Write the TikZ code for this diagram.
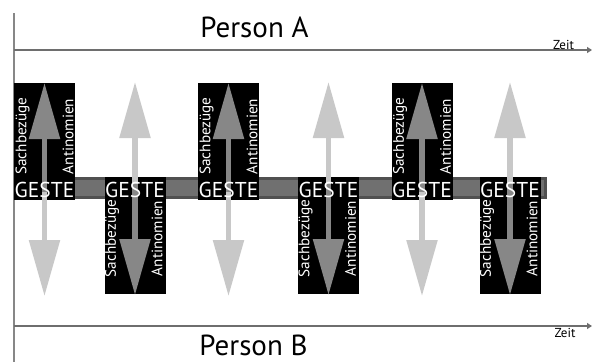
\documentclass[tikz,border=0pt]{standalone}
\usepackage{fontspec}
\setmainfont{PT Sans}
\usetikzlibrary{arrows.meta}
\definecolor{lightarr}{HTML}{C8C8C8}
\definecolor{darkarr}{HTML}{878787}
\definecolor{bandfill}{HTML}{707070}
\definecolor{bandedge}{HTML}{505050}
\definecolor{linegray}{HTML}{6E6E6E}
\tikzset{
  gbox/.style={fill=black, draw=none, inner sep=0pt, minimum width=61pt, minimum height=117pt},
  lightarrow/.style={draw=lightarr, line width=5.5pt, -{Triangle[width=30pt,length=56pt]}},
  darkarrow/.style={draw=darkarr, line width=5.5pt, -{Triangle[width=30pt,length=56pt]}},
  geste/.style={text=white, font=\fontsize{21.5}{21.5}\selectfont, inner sep=0pt, anchor=base},
  vlabel/.style={text=white, font=\fontsize{15.2}{15.2}\selectfont, inner sep=0pt, rotate=90, anchor=center},
  person/.style={font=\fontsize{29}{29}\selectfont, inner sep=0pt, anchor=base, text depth=0pt},
  zeit/.style={font=\fontsize{13}{13}\selectfont, inner sep=0pt, anchor=base},
  timeline/.style={draw=linegray, line width=1.4pt, -{Triangle[width=6pt,length=5pt]}},
}
\begin{document}
\begin{tikzpicture}[x=1pt,y=-1pt]
\useasboundingbox (0,0) rectangle (592,362);
% axes
\coordinate (vtop) at (14,13);
\coordinate (vbot) at (14,362);
\draw[draw=darkarr, line width=2pt] (vtop) -- (vbot);
\coordinate (ta0) at (14,50);
\coordinate (ta1) at (592,50);
\coordinate (tb0) at (14,326);
\coordinate (tb1) at (592,326);
\draw[timeline] (ta0) -- (ta1);
\draw[timeline] (tb0) -- (tb1);
\node[person] (pa) at (254.5,37) {Person A};
\node[person] (pb) at (253.5,355) {Person B};
\node[zeit] (za) at (563.5,49.5) {Zeit};
\node[zeit] (zb) at (565,337) {Zeit};
% band
\node[fill=bandfill, draw=bandedge, line width=2.5pt, inner sep=0pt, minimum width=530pt, minimum height=19pt] (band) at (280.5,188) {};
% boxes
\node[gbox] (box1) at (44.5,141.5) {};
\node[gbox] (box3) at (228.5,141.5) {};
\node[gbox] (box5) at (422,141.5) {};
\node[gbox] (box2) at (135,235.5) {};
\node[gbox] (box4) at (328.5,235.5) {};
\node[gbox] (box6) at (510,235.5) {};
% arrows
\foreach \i/\x in {1/44.5,3/228.5,5/422}{
  \coordinate (s\i) at (\x,179);
  \coordinate (d\i) at (\x,192);
  \coordinate (up\i) at (\x,83);
  \coordinate (dn\i) at (\x,296);
  \draw[lightarrow] (s\i) -- (dn\i);
  \draw[darkarrow] (d\i) -- (up\i);
}
\foreach \i/\x in {2/135,4/328.5,6/510}{
  \coordinate (s\i) at (\x,197);
  \coordinate (d\i) at (\x,184);
  \coordinate (up\i) at (\x,82);
  \coordinate (dn\i) at (\x,295);
  \draw[lightarrow] (s\i) -- (up\i);
  \draw[darkarrow] (d\i) -- (dn\i);
}
% labels
\foreach \i/\x in {1/44.5,3/228.5,5/422}{
  \node[geste] (g\i) at (\x,197) {GESTE};
  \node[vlabel] (sa\i) at (\x-22,136) {Sachbezüge};
  \node[vlabel] (an\i) at (\x+23.5,136.5) {Antinomien};
}
\foreach \i/\x in {2/135,4/328.5,6/510}{
  \node[geste] (g\i) at (\x,197) {GESTE};
  \node[vlabel] (sa\i) at (\x-23,238.5) {Sachbezüge};
  \node[vlabel] (an\i) at (\x+22,238.5) {Antinomien};
}
\end{tikzpicture}
\end{document}
